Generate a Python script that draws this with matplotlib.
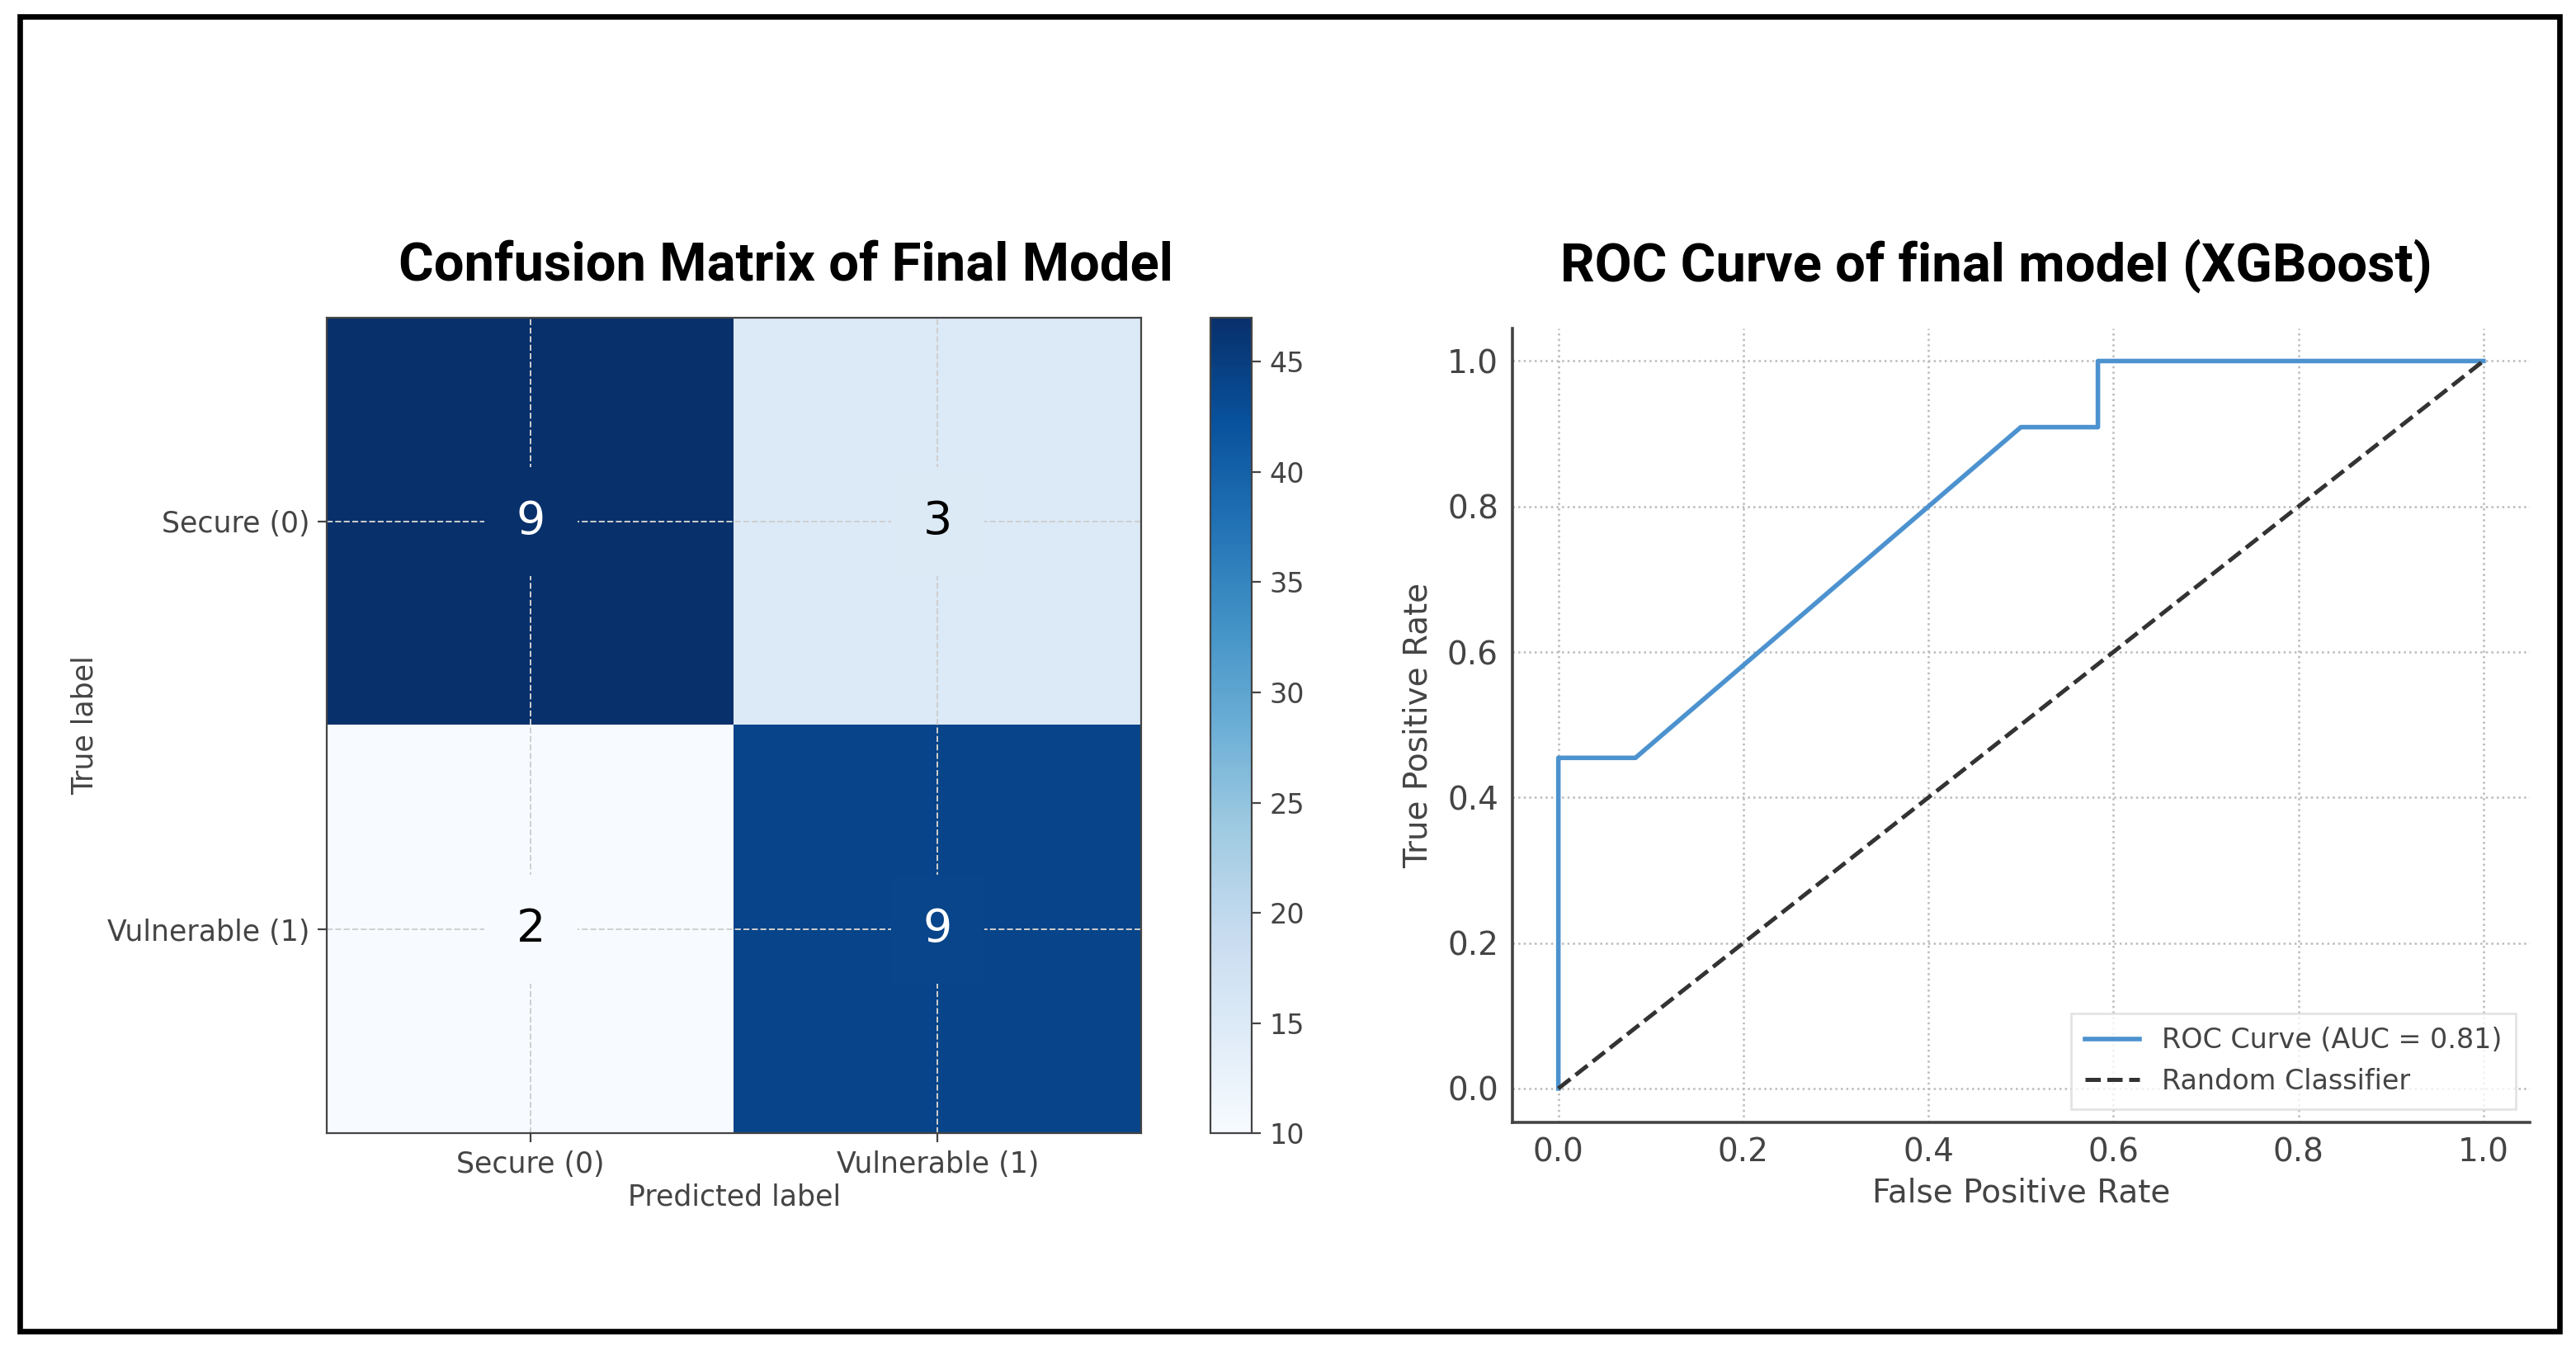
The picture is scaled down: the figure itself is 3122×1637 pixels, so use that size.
import numpy as np
import matplotlib
matplotlib.use("Agg")
from matplotlib import pyplot as plt
from matplotlib.patches import Rectangle

# confusion matrix data
class_labels = ["Secure (0)", "Vulnerable (1)"]
cell_text = [[9, 3], [2, 9]]
cell_shade = [[47, 15], [10, 44]]   # values behind the colours

# roc data
fpr = [0.0, 0.0, 0.0833, 0.5, 0.5833, 0.5833, 1.0]
tpr = [0.0, 0.4545, 0.4545, 0.9091, 0.9091, 1.0, 1.0]
auc_value = 0.81
chance_x = [0, 1]
chance_y = [0, 1]
roc_ticks = [0.0, 0.2, 0.4, 0.6, 0.8, 1.0]
cbar_ticks = [10, 15, 20, 25, 30, 35, 40, 45]

plt.rcParams["font.family"] = ["DejaVu Sans"]
gray = "#444444"

fig = plt.figure(figsize=(15.61, 8.185), dpi=200)

# outer frame
fig.patches.append(Rectangle((0.0077, 0.0146), 0.9859, 0.9734, transform=fig.transFigure,
                             fill=False, edgecolor="black", linewidth=2.4, zorder=10))

# ---- confusion matrix ----
ax1 = fig.add_axes([0.127, 0.161, 0.316, 0.604])
cmap = plt.get_cmap("Blues")
vmin, vmax = 10, 47
im = ax1.imshow(np.array(cell_shade), cmap=cmap, vmin=vmin, vmax=vmax, aspect="auto")
ax1.set_xticks(range(len(class_labels)))
ax1.set_yticks(range(len(class_labels)))
ax1.set_xticklabels(class_labels, fontsize=12.5, color=gray)
ax1.set_yticklabels(class_labels, fontsize=12.5, color=gray)
ax1.set_xlabel("Predicted label", fontsize=12.5, color=gray, labelpad=2)
ax1.set_ylabel("True label", fontsize=12.5, color=gray)
ax1.grid(True, linestyle="--", color="#cfcfcf", linewidth=0.7)
ax1.tick_params(length=4, color=gray)
for sp in ax1.spines.values():
    sp.set_color(gray)
for i in range(2):
    for j in range(2):
        shade = cell_shade[i][j]
        fc = cmap((shade - vmin) / (vmax - vmin))
        txt_color = "white" if shade > 30 else "black"
        ax1.text(j, i, str(cell_text[i][j]), ha="center", va="center", fontsize=20,
                 color=txt_color, zorder=5,
                 bbox=dict(boxstyle="square,pad=0.7", facecolor=fc, edgecolor="none"))
fig.text(0.305, 0.803, "Confusion Matrix of Final Model", ha="center", va="center",
         fontsize=23.5, fontweight="bold", family="Roboto")

cax = fig.add_axes([0.470, 0.161, 0.016, 0.604])
cb = fig.colorbar(im, cax=cax)
cb.set_ticks(cbar_ticks)
cb.ax.tick_params(labelsize=12, colors=gray, length=4)
cb.outline.set_edgecolor(gray)

# ---- roc curve ----
ax2 = fig.add_axes([0.587, 0.169, 0.395, 0.588])
ax2.plot(fpr, tpr, color="#4c92cf", linewidth=2.0, label=f"ROC Curve (AUC = {auc_value:.2f})")
ax2.plot(chance_x, chance_y, color="#333333", linestyle="--", linewidth=1.8, label="Random Classifier")
ax2.set_xlim(-0.05, 1.05)
ax2.set_ylim(-0.047, 1.045)
ax2.set_xticks(roc_ticks)
ax2.set_yticks(roc_ticks)
ax2.tick_params(labelsize=14, colors=gray, length=0, pad=6)
ax2.set_xlabel("False Positive Rate", fontsize=14, color=gray, labelpad=4)
ax2.set_ylabel("True Positive Rate", fontsize=14, color=gray, labelpad=6)
ax2.grid(True, linestyle=":", color="#bbbbbb", linewidth=0.9)
ax2.spines["top"].set_visible(False)
ax2.spines["right"].set_visible(False)
ax2.spines["left"].set_color(gray)
ax2.spines["bottom"].set_color(gray)
ax2.spines["left"].set_linewidth(1.3)
ax2.spines["bottom"].set_linewidth(1.3)
leg = ax2.legend(loc="lower right", fontsize=12, frameon=True, fancybox=False,
                 handlelength=2.0, borderpad=0.5, labelspacing=0.5)
leg.get_frame().set_edgecolor("#dddddd")
for t in leg.get_texts():
    t.set_color(gray)
fig.text(0.775, 0.803, "ROC Curve of final model (XGBoost)", ha="center", va="center",
         fontsize=23.5, fontweight="bold", family="Roboto")

fig.savefig("out.png", dpi=200)
